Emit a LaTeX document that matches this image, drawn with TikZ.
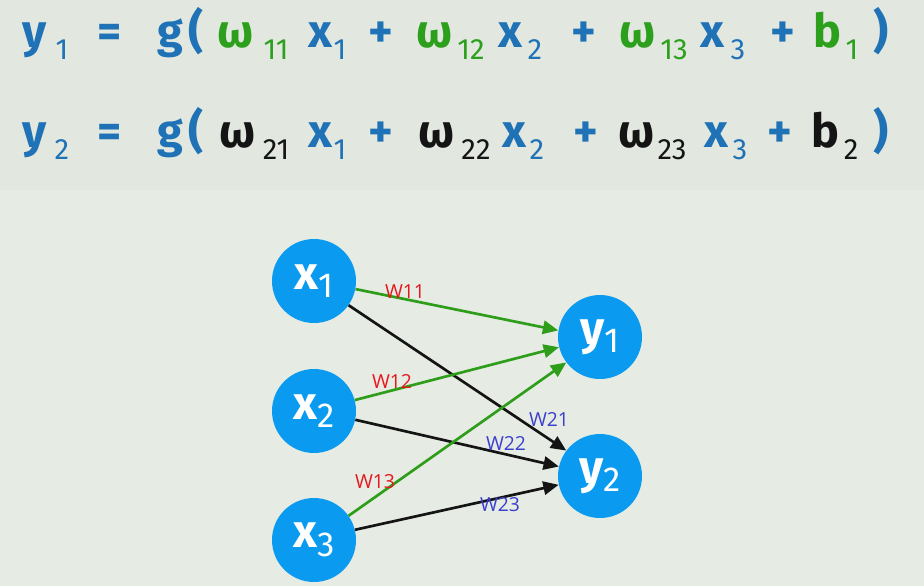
\documentclass[tikz,border=0pt]{standalone}
\usepackage{fontspec}
\setmainfont{Fira Sans}
\newfontfamily\lblfont{Open Sans}
\usetikzlibrary{arrows.meta}
\definecolor{bgc}{HTML}{E6ECE3}
\definecolor{bgtop}{HTML}{E2E8E0}
\definecolor{eqblue}{HTML}{1F72B6}
\definecolor{eqgreen}{HTML}{2CA01C}
\definecolor{eqblack}{HTML}{141414}
\definecolor{nodeblue}{HTML}{0A9BF0}
\definecolor{argreen}{HTML}{2E9E1A}
\definecolor{lred}{HTML}{E8161E}
\definecolor{lblue}{HTML}{3B3FD0}
\tikzset{
  big/.style={inner sep=0pt, anchor=base, font=\fontsize{35}{40}\selectfont\bfseries},
  sub/.style={inner sep=0pt, anchor=base, yshift=-9pt, font=\fontsize{22}{24}\selectfont\mdseries},
  neuron/.style={circle, fill=nodeblue, minimum size=63pt, inner sep=0pt, text=white,
    font=\fontsize{35}{38}\selectfont\bfseries},
  garrow/.style={draw=argreen, line width=2pt, -{Triangle[length=11.5pt,width=10pt]}},
  karrow/.style={draw=eqblack, line width=2pt, -{Triangle[length=11.5pt,width=10pt]}},
  wred/.style={text=lred, inner sep=0pt, font=\lblfont\fontsize{14.5}{16}\selectfont},
  wblue/.style={text=lblue, inner sep=0pt, font=\lblfont\fontsize{14.5}{16}\selectfont},
}
\newcommand{\nsub}[2]{#1\raisebox{-6.5pt}{\fontsize{26}{28}\selectfont\mdseries #2}}
\begin{document}
\begin{tikzpicture}[x=0.75pt,y=-0.75pt]
\useasboundingbox (0,0) rectangle (924,586);
\fill[bgc] (0,0) rectangle (924,586);
\fill[bgtop] (0,0) rectangle (924,190);
% Row 1
\foreach \t/\xx/\c/\s [count=\i] in {
  y/35/eqblue/big, 1/62/eqblue/sub, =/110/eqblue/big, g/170/eqblue/big, {(}/196/eqblue/big,
  ω/236/eqgreen/big, 11/276/eqgreen/sub, x/320/eqblue/big, 1/340/eqblue/sub, +/381/eqblue/big,
  ω/435/eqgreen/big, 12/471/eqgreen/sub, x/510/eqblue/big, 2/535/eqblue/sub, +/584/eqblue/big,
  ω/638/eqgreen/big, 13/674/eqgreen/sub, x/712/eqblue/big, 3/738/eqblue/sub, +/783/eqblue/big,
  b/827/eqgreen/big, 1/852/eqgreen/sub, {)}/881/eqblue/big}
  {\node[\s, text=\c] (ra\i) at (\xx,47) {\t};}
% Row 2
\foreach \t/\xx/\c/\s [count=\i] in {
  y/35/eqblue/big, 2/62/eqblue/sub, =/110/eqblue/big, g/170/eqblue/big, {(}/196/eqblue/big,
  ω/238/eqblack/big, 21/276/eqblack/sub, x/320/eqblue/big, 1/340/eqblue/sub, +/381/eqblue/big,
  ω/437/eqblack/big, 22/476/eqblack/sub, x/514/eqblue/big, 2/537/eqblue/sub, +/586/eqblue/big,
  ω/637/eqblack/big, 23/672/eqblack/sub, x/716/eqblue/big, 3/740/eqblue/sub, +/780/eqblue/big,
  b/825/eqblack/big, 2/851/eqblack/sub, {)}/881/eqblue/big}
  {\node[\s, text=\c] (rb\i) at (\xx,147) {\t};}
% Network
\node[neuron] (x1) at (314,281) {\nsub{x}{1}};
\node[neuron] (x2) at (314,411) {\nsub{x}{2}};
\node[neuron] (x3) at (314,540) {\nsub{x}{3}};
\node[neuron] (y1) at (600,337) {\nsub{y}{1}};
\node[neuron] (y2) at (600,476) {\nsub{y}{2}};
\draw[karrow] (x1.-35) -- (y2.143);
\draw[karrow] (x2.-12) -- (y2.167);
\draw[karrow] (x3.14) -- (y2.-168);
\draw[garrow] (x1.-11) -- (y1.171);
\draw[garrow] (x2.15) -- (y1.-166);
\draw[garrow] (x3.35) -- (y1.-143);
\node[wred] (w11) at (405,292) {W11};
\node[wred] (w12) at (392,381) {W12};
\node[wred] (w13) at (375,482) {W13};
\node[wblue] (w21) at (549,419) {W21};
\node[wblue] (w22) at (506,443) {W22};
\node[wblue] (w23) at (500,505) {W23};
\end{tikzpicture}
\end{document}
